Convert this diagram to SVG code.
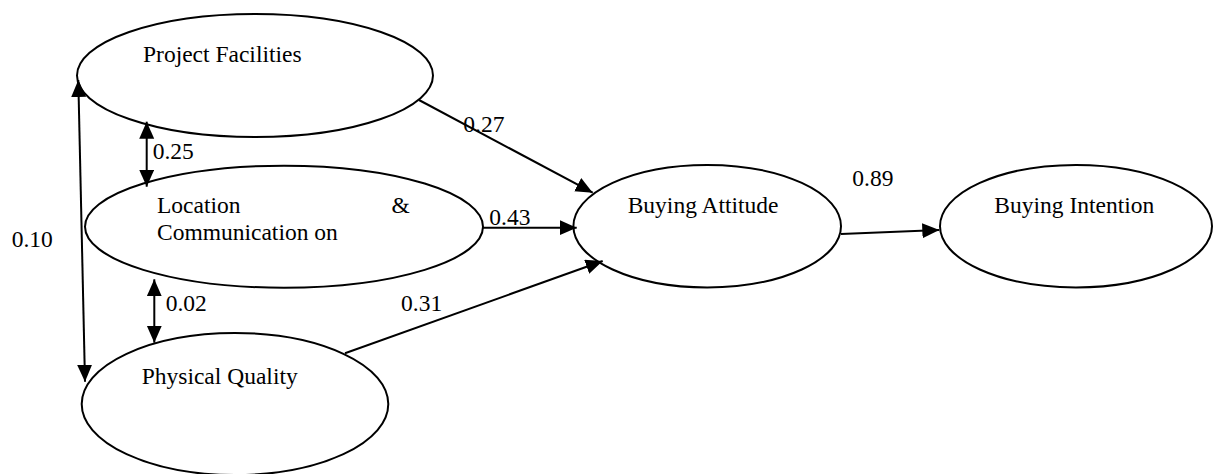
<svg xmlns="http://www.w3.org/2000/svg" width="1213" height="474" viewBox="0 0 1213 474">
<style>
.node{fill:#fff;stroke:#000;stroke-width:2}
.t{font-family:'Liberation Serif',Tinos,'Times New Roman',Times,'DejaVu Serif',serif;font-size:23.5px;fill:#000}
.c{stroke:#000;stroke-width:2;fill:none}
</style>
<defs>
<marker id="ah" markerUnits="userSpaceOnUse" markerWidth="18" markerHeight="16" refX="17" refY="7.5" orient="auto-start-reverse">
<path d="M0,0 L17,7.5 L0,15 z" fill="#000"/>
</marker>
</defs>
<rect width="1213" height="474" fill="#fff"/>
<g id="project-facilities">
<ellipse class="node" cx="255" cy="75.5" rx="178" ry="61.5"/>
<text class="t" x="143" y="62">Project Facilities</text>
</g>
<g id="location-communication">
<ellipse class="node" cx="284" cy="226.7" rx="199" ry="61"/>
<text class="t" x="157" y="212.7">Location</text>
<text class="t" x="391.5" y="212.7">&amp;</text>
<text class="t" x="157" y="240">Communication on</text>
</g>
<g id="physical-quality">
<ellipse class="node" cx="235" cy="404" rx="153.3" ry="71"/>
<text class="t" x="141.7" y="384">Physical Quality</text>
</g>
<g id="buying-attitude">
<ellipse class="node" cx="707.2" cy="226.2" rx="133.8" ry="61.2"/>
<text class="t" x="627.7" y="213.3">Buying Attitude</text>
</g>
<g id="buying-intention">
<ellipse class="node" cx="1076" cy="226.2" rx="136" ry="61.2"/>
<text class="t" x="994.3" y="212.7">Buying Intention</text>
</g>
<g id="connectors">
<line class="c" x1="78.3" y1="80" x2="85" y2="381.7" marker-start="url(#ah)" marker-end="url(#ah)"/>
<line class="c" x1="146.7" y1="121.7" x2="146.7" y2="186.7" marker-start="url(#ah)" marker-end="url(#ah)"/>
<line class="c" x1="154.3" y1="279.3" x2="154.3" y2="342.7" marker-start="url(#ah)" marker-end="url(#ah)"/>
<line class="c" x1="419" y1="100" x2="592.7" y2="192.7" marker-end="url(#ah)"/>
<line class="c" x1="482.7" y1="227.7" x2="576.7" y2="227.7" marker-end="url(#ah)"/>
<line class="c" x1="345" y1="353.3" x2="602.7" y2="261" marker-end="url(#ah)"/>
<line class="c" x1="841" y1="234" x2="939.3" y2="230" marker-end="url(#ah)"/>
<text class="t" x="11.7" y="247">0.10</text>
<text class="t" x="152.7" y="159">0.25</text>
<text class="t" x="165.7" y="311">0.02</text>
<text class="t" x="463.3" y="132.3">0.27</text>
<text class="t" x="489.3" y="225">0.43</text>
<text class="t" x="401" y="311">0.31</text>
<text class="t" x="852.3" y="186">0.89</text>
</g>
</svg>
